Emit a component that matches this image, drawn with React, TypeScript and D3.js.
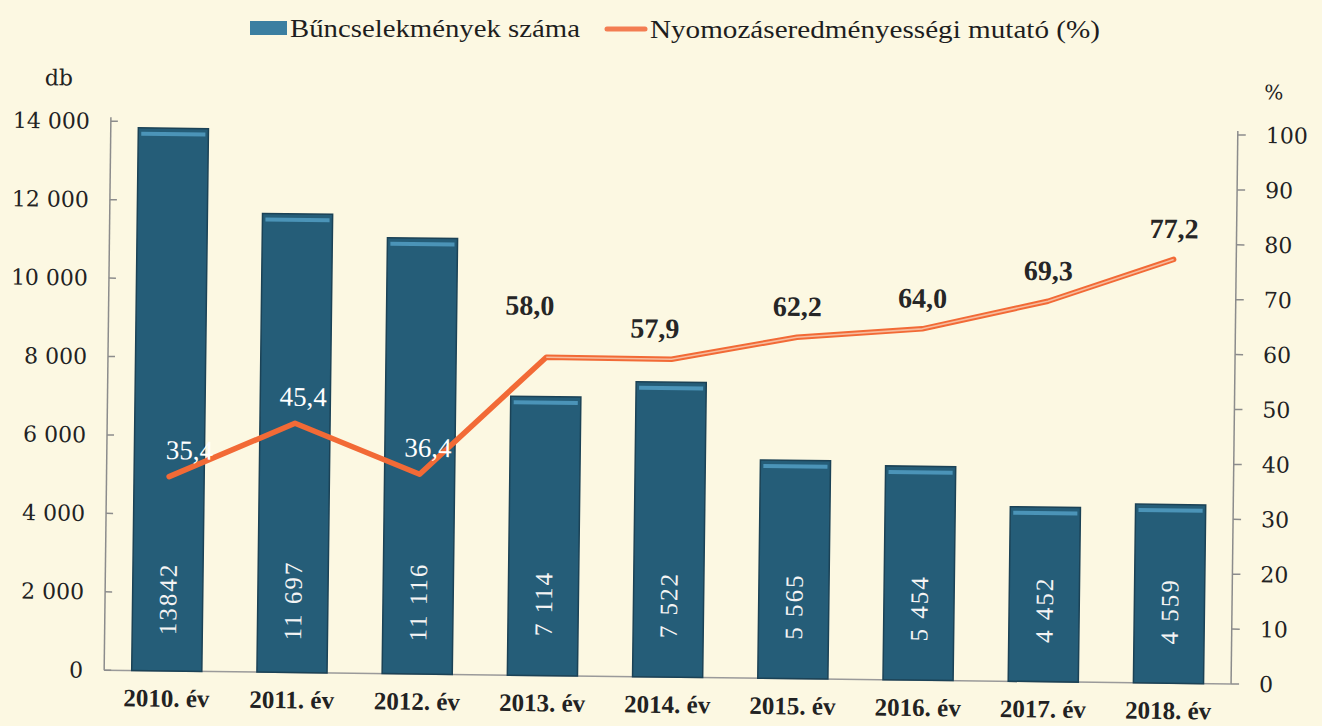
import * as d3 from "d3";

const years = ["2010. év", "2011. év", "2012. év", "2013. év", "2014. év", "2015. év", "2016. év", "2017. év", "2018. év"];
const crimeCounts = [13842, 11697, 11116, 7114, 7522, 5565, 5454, 4452, 4559];
const crimeLabels = ["13842", "11 697", "11 116", "7 114", "7 522", "5 565", "5 454", "4 452", "4 559"];
const clearanceRate = [35.4, 45.4, 36.4, 58.0, 57.9, 62.2, 64.0, 69.3, 77.2];
const leftTicks = [0, 2000, 4000, 6000, 8000, 10000, 12000, 14000];
const rightTicks = [0, 10, 20, 30, 40, 50, 60, 70, 80, 90, 100];

const W = 1322;
const H = 726;
const BG = "#fcf8e2";
const BAR = "#255d78";
const BAR_EDGE = "#1b4256";
const LINE = "#f26a36";
const SERIF = "'Liberation Serif', 'Times New Roman', serif";
const WIDE_SERIF = "'DejaVu Serif', serif";

const fmtThousands = (v: number) => (v >= 1000 ? d3.format(",")(v).replace(",", " ") : String(v));
const fmtComma = (v: number) => v.toFixed(1).replace(".", ",");

export default function App() {
  const left = 107.5;
  const right = 1234.5;
  const top = 128;
  const bottom = 677;

  const x = d3.scaleBand<string>().domain(years).range([left, right]).paddingInner(0.44).paddingOuter(0.22);
  const yL = d3.scaleLinear().domain([0, 14000]).range([bottom, top]);
  const yR = d3.scaleLinear().domain([0, 100]).range([bottom, top]);
  const cx = (d: string) => (x(d) ?? 0) + x.bandwidth() / 2;

  const pts: [number, number][] = years.map((d, i) => [cx(d), yR(clearanceRate[i])]);
  const line = d3.line<[number, number]>();
  const path = line(pts) ?? "";
  const innerPath = line(pts.slice(3)) ?? "";

  // white labels for the first three sit on the bars, the rest are dark above the line
  const labelDy = (i: number) => (i === 3 ? -52 : i < 3 ? -27 : -31);
  const labelDx = (i: number) => (i === 0 ? 20 : i < 3 ? 8 : i < 5 ? -17 : 0);

  return (
    <div style={{ width: W, height: H, background: BG }}>
      <style>{`body{margin:0;background:${BG}}`}</style>
      <svg width={W} height={H} style={{ display: "block" }}>
        <rect width={W} height={H} fill={BG} />

        {/* Legend */}
        <g fontFamily={SERIF} fontSize={25} fill="#1e1e1e">
          <rect x={250} y={21} width={37} height={14} fill="#3b7fa1" />
          <text x={290} y={28} dy="0.35em" textLength={290} lengthAdjust="spacingAndGlyphs">
            Bűncselekmények száma
          </text>
          <line x1={607} x2={645} y1={29} y2={29} stroke="#f37d52" strokeWidth={5} strokeLinecap="round" />
          <text x={650} y={29} dy="0.35em" textLength={450} lengthAdjust="spacingAndGlyphs">
            Nyomozáseredményességi mutató (%)
          </text>
        </g>

        <g transform="rotate(0.7, 661, 400)">
          {/* Units */}
          <text x={55} y={85} dy="0.35em" textAnchor="middle" fontFamily={WIDE_SERIF} fontSize={22} fill="#222">
            db
          </text>
          <text x={1270} y={85} dy="0.35em" textAnchor="middle" fontFamily={WIDE_SERIF} fontSize={20} fill="#222">
            %
          </text>

          {/* Axes */}
          <line x1={left} x2={left} y1={top - 4} y2={bottom} stroke="#8c8c8c" strokeWidth={1.5} />
          <line x1={right} x2={right} y1={top - 4} y2={bottom} stroke="#8c8c8c" strokeWidth={1.5} />
          <line x1={left} x2={right} y1={bottom} y2={bottom} stroke="#9a9a9a" strokeWidth={1.5} />

          {leftTicks.map((t) => (
            <g key={"l" + t}>
              <line x1={left} x2={left + 7} y1={yL(t)} y2={yL(t)} stroke="#8c8c8c" strokeWidth={1.5} />
              <text
                x={left - 21}
                y={yL(t)}
                dy="0.35em"
                textAnchor="end"
                fontFamily={WIDE_SERIF}
                fontSize={22}
                fill="#222"
              >
                {fmtThousands(t)}
              </text>
            </g>
          ))}
          {rightTicks.map((t) => (
            <g key={"r" + t}>
              <line x1={right} x2={right + 8} y1={yR(t)} y2={yR(t)} stroke="#8c8c8c" strokeWidth={1.5} />
              <text x={right + 28} y={yR(t)} dy="0.35em" fontFamily={WIDE_SERIF} fontSize={22} fill="#222">
                {t}
              </text>
            </g>
          ))}

          {/* Bars */}
          {years.map((d, i) => {
            const bx = x(d) ?? 0;
            const by = yL(crimeCounts[i]);
            const bw = x.bandwidth();
            return (
              <g key={d}>
                <rect x={bx} y={by} width={bw} height={bottom - by} fill={BAR} stroke={BAR_EDGE} strokeWidth={1.5} />
                <rect x={bx + 3} y={by + 4} width={bw - 6} height={4} fill="#4b94b8" />
                <text
                  transform={`translate(${cx(d)},${bottom - 72}) rotate(-90)`}
                  dy="0.35em"
                  textAnchor="middle"
                  fontFamily={SERIF}
                  fontSize={25}
                  letterSpacing={2}
                  fill="#f4f4f4"
                >
                  {crimeLabels[i]}
                </text>
              </g>
            );
          })}

          {/* Line */}
          <path d={path} fill="none" stroke={LINE} strokeWidth={5.5} strokeLinejoin="round" strokeLinecap="round" />
          <path d={innerPath} fill="none" stroke="#f6bc9e" strokeWidth={1.6} strokeLinejoin="round" />

          {pts.map(([px, py], i) => (
            <text
              key={"v" + i}
              x={px + labelDx(i)}
              y={py + labelDy(i)}
              dy="0.35em"
              textAnchor="middle"
              fontFamily={SERIF}
              fontSize={i < 3 ? 27 : 28}
              fontWeight={i < 3 ? 400 : 700}
              fill={i < 3 ? "#ffffff" : "#262626"}
            >
              {fmtComma(clearanceRate[i])}
            </text>
          ))}

          {/* Category labels */}
          {years.map((d) => (
            <text
              key={"x" + d}
              x={cx(d)}
              y={bottom + 27}
              dy="0.35em"
              textAnchor="middle"
              fontFamily={SERIF}
              fontSize={25}
              fontWeight={700}
              fill="#222"
            >
              {d}
            </text>
          ))}
        </g>
      </svg>
    </div>
  );
}
